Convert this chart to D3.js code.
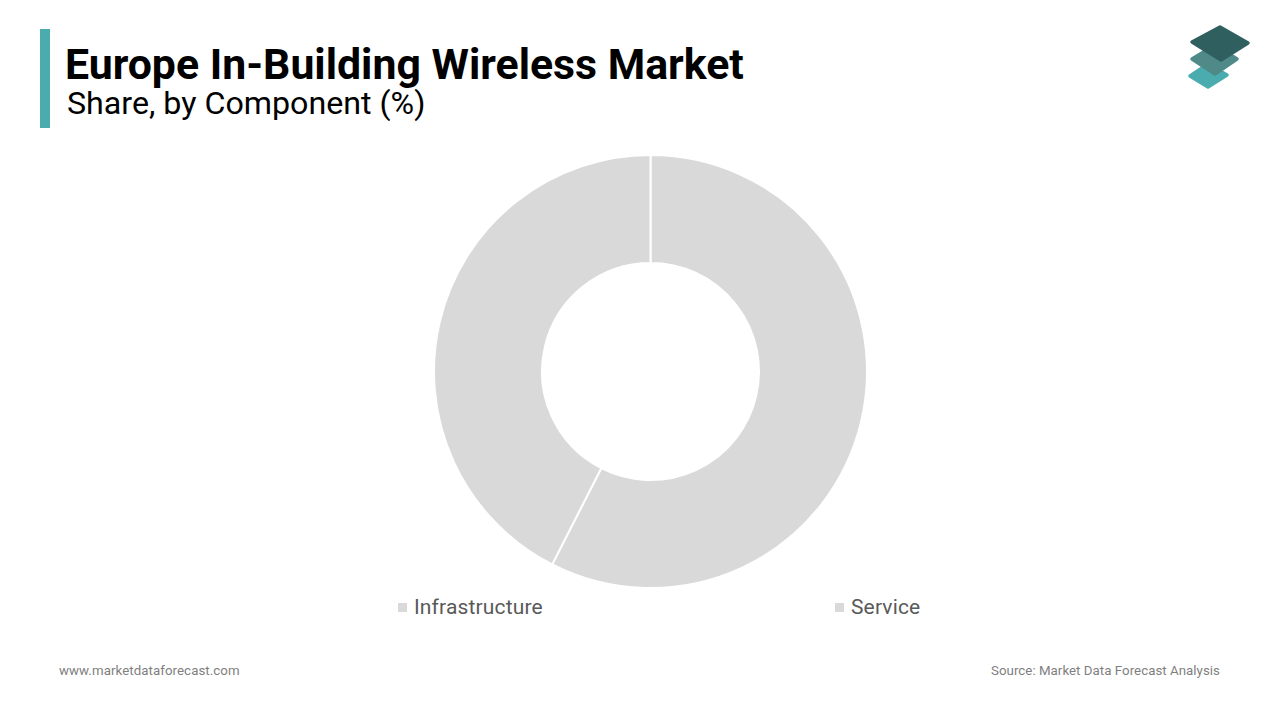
<!DOCTYPE html>
<html>
<head>
<meta charset="utf-8">
<script src="https://cdn.jsdelivr.net/npm/d3@7"></script>
<style>
  html, body { margin: 0; padding: 0; background: #fff; }
  text { font-family: Roboto, sans-serif; }
</style>
</head>
<body>
<div id="chart"></div>
<script>
var categories = ["Infrastructure", "Service"];
var shares = [57.5, 42.5];
var titleText = "Europe In-Building Wireless Market";
var subtitleText = "Share, by Component (%)";
var siteText = "www.marketdataforecast.com";
var sourceText = "Source: Market Data Forecast Analysis";

var svg = d3.select("#chart").append("svg")
    .attr("width", 1280)
    .attr("height", 720)
    .style("display", "block");

// header
svg.append("rect").attr("x", 40).attr("y", 29).attr("width", 10).attr("height", 99).attr("fill", "#4aacae");
svg.append("text").attr("x", 65).attr("y", 79)
    .attr("font-size", 42.8).attr("font-weight", 700).attr("fill", "#000")
    .text(titleText);
svg.append("text").attr("x", 67).attr("y", 114)
    .attr("font-size", 32.2).attr("fill", "#000")
    .text(subtitleText);

// logo, bottom layer first
var logoLayers = [
    {fill: "#4aacae", pts: [[1208,64],[1227,75],[1208,87],[1190,76]]},
    {fill: "#4f8a89", pts: [[1215,45],[1237,59],[1215,74],[1192,59]]},
    {fill: "#2f5f5e", pts: [[1220,27],[1248,43],[1221,60],[1192,42]]}
];
svg.append("g").selectAll("path")
    .data(logoLayers)
    .enter()
    .append("path")
    .attr("d", function(d){ return d3.line()(d.pts) + "Z"; })
    .attr("fill", function(d){ return d.fill; })
    .attr("stroke", function(d){ return d.fill; })
    .attr("stroke-width", 3.5)
    .attr("stroke-linejoin", "round");

// donut
var pie = d3.pie().sort(null);
var arc = d3.arc().innerRadius(108.5).outerRadius(216.5);
svg.append("g")
    .attr("transform", "translate(650.5,371.5)")
    .selectAll("path")
    .data(pie(shares))
    .enter()
    .append("path")
    .attr("d", arc)
    .attr("fill", "#d9d9d9")
    .attr("stroke", "#fff")
    .attr("stroke-width", 2);

// legend
var legendX = d3.scalePoint().domain(categories).range([398, 835]);
var legend = svg.append("g").selectAll("g")
    .data(categories)
    .enter()
    .append("g")
    .attr("transform", function(d){ return "translate(" + legendX(d) + ",603)"; });
legend.append("rect").attr("width", 9).attr("height", 9).attr("fill", "#d9d9d9");
legend.append("text").attr("x", 16).attr("y", 11)
    .attr("font-size", 21).attr("letter-spacing", 0.15).attr("fill", "#595959")
    .text(function(d){ return d; });

// footer
svg.append("text").attr("x", 59).attr("y", 675)
    .attr("font-size", 13.3).attr("letter-spacing", 0.06).attr("fill", "#7f7f7f")
    .text(siteText);
svg.append("text").attr("x", 1220).attr("y", 675).attr("text-anchor", "end")
    .attr("font-size", 13.3).attr("letter-spacing", 0.03).attr("fill", "#7f7f7f")
    .text(sourceText);
</script>
</body>
</html>
